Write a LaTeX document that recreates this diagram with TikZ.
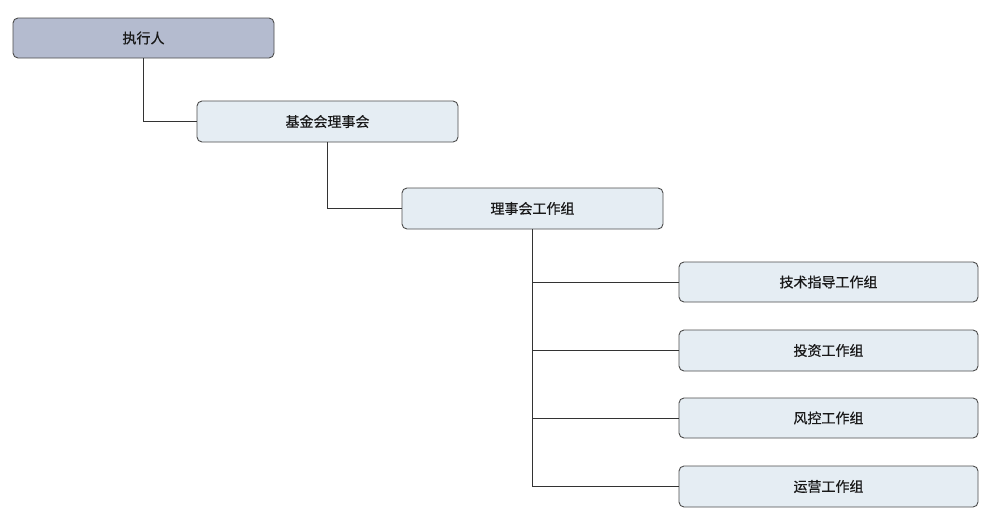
\documentclass[tikz,border=0pt]{standalone}
\usepackage{fontspec}
\setmainfont{Noto Sans CJK SC}
\newfontfamily\medfont{Noto Sans CJK SC}[FakeBold=0.6]
\begin{document}
\begin{tikzpicture}[x=1pt,y=-1pt,
  box/.style={draw=black!70,line width=0.9pt,rounded corners=5pt,fill=boxfill,font=\medfont\fontsize{14}{16}\selectfont,text=black!90,inner sep=0pt},
  topbox/.style={box,fill=topfill},
  link/.style={draw=black!80,line width=0.9pt}]
\definecolor{boxfill}{HTML}{E5EDF3}
\definecolor{topfill}{HTML}{B4BBCF}
\useasboundingbox (0,0) rectangle (990,517);
\node[topbox,minimum width=261pt,minimum height=40pt] (a) at (143.5,38) {执行人};
\node[box,minimum width=261pt,minimum height=41pt] (b) at (327.5,121.5) {基金会理事会};
\node[box,minimum width=261pt,minimum height=41pt] (c) at (532.5,208.5) {理事会工作组};
\node[box,minimum width=299pt,minimum height=40pt] (d1) at (828.5,282) {技术指导工作组};
\node[box,minimum width=299pt,minimum height=41pt] (d2) at (828.5,350.5) {投资工作组};
\node[box,minimum width=299pt,minimum height=40pt] (d3) at (828.5,418) {风控工作组};
\node[box,minimum width=299pt,minimum height=41pt] (d4) at (828.5,486.5) {运营工作组};
\draw[link] (a.south) |- (b.west);
\draw[link] (b.south) |- (c.west);
\draw[link] (c.south) |- (d1.west);
\draw[link] (c.south) |- (d2.west);
\draw[link] (c.south) |- (d3.west);
\draw[link] (c.south) |- (d4.west);
\end{tikzpicture}
\end{document}
